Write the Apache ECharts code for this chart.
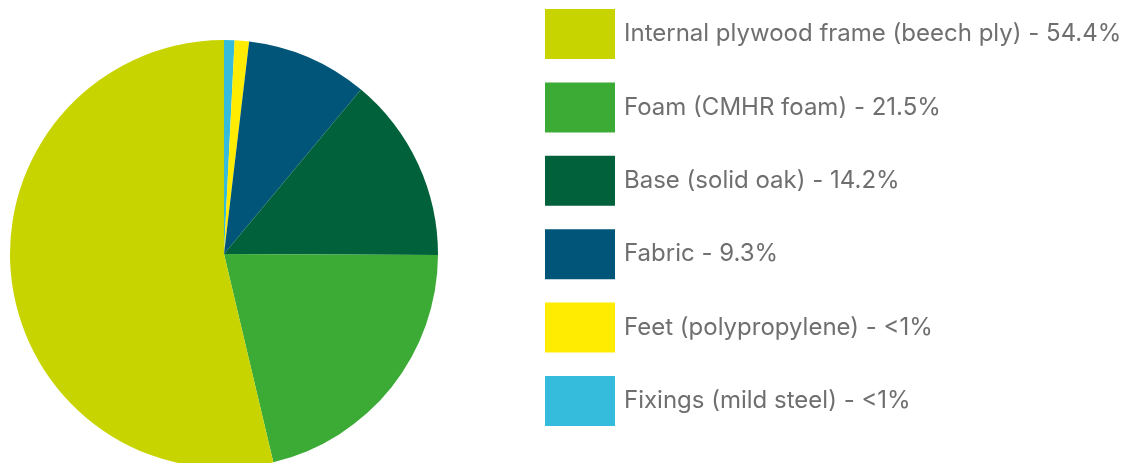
<!DOCTYPE html>
<html>
<head>
<meta charset="utf-8">
<script src="https://cdn.jsdelivr.net/npm/echarts@6/dist/echarts.min.js"></script>
<style>
html,body{margin:0;padding:0;background:#fff;}
#chart{width:1123px;height:463px;}
</style>
</head>
<body>
<div id="chart"></div>
<script>
// Data (legend order)
const categories = [
  'Internal plywood frame (beech ply)',
  'Foam (CMHR foam)',
  'Base (solid oak)',
  'Fabric',
  'Feet (polypropylene)',
  'Fixings (mild steel)'
];
const percentLabels = ['54.4%', '21.5%', '14.2%', '9.3%', '<1%', '<1%'];
const values = [54.4, 21.5, 14.2, 9.3, 1.1, 0.8];
const colors = ['#c8d400', '#3cab36', '#00613a', '#005578', '#ffec00', '#35bcdc'];

const chart = echarts.init(document.getElementById('chart'), null, {renderer: 'canvas'});

// pie drawn clockwise from 12 o'clock in reverse legend order
const pieData = categories.map((c, i) => ({
  name: c,
  value: values[i],
  itemStyle: {color: colors[i]}
})).reverse();

const labelMap = {};
categories.forEach((c, i) => { labelMap[c] = c + ' - ' + percentLabels[i]; });

chart.setOption({
  animation: false,
  legend: {
    orient: 'vertical',
    left: 545,
    top: 9,
    padding: 0,
    itemWidth: 70,
    itemHeight: 50,
    itemGap: 23.4,
    icon: 'rect',
    data: categories,
    selectedMode: false,
    formatter: name => labelMap[name],
    textStyle: {
      fontFamily: 'Inter',
      fontSize: 24,
      color: '#6f6f6f',
      padding: [0, 0, 0, 4]
    }
  },
  series: [{
    type: 'pie',
    center: [224, 254],
    radius: 214,
    startAngle: 90,
    clockwise: true,
    label: {show: false},
    labelLine: {show: false},
    emphasis: {disabled: true},
    itemStyle: {borderWidth: 0},
    data: pieData
  }]
});
</script>
</body>
</html>
